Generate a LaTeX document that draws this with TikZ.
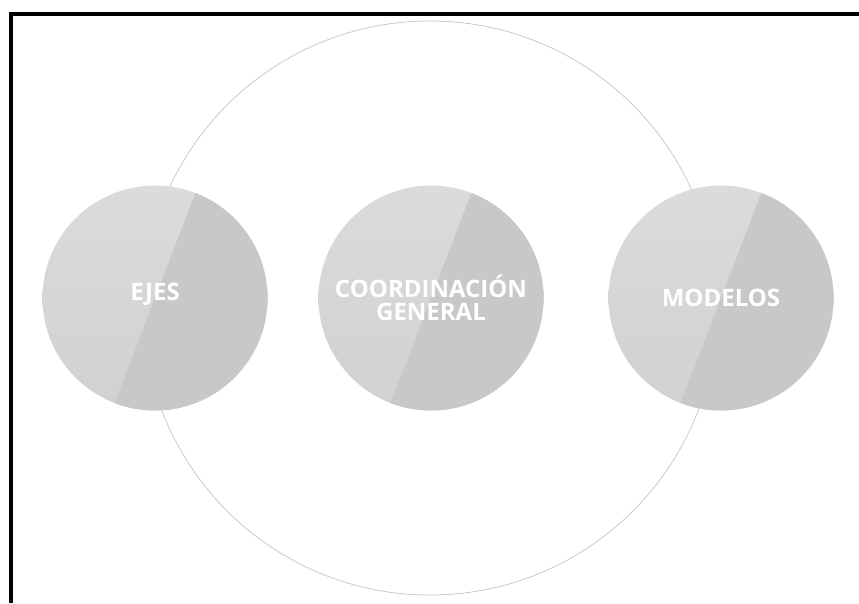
\documentclass[tikz,border=0pt]{standalone}
\usepackage{fontspec}
\usepackage{tikz}
\newfontfamily\labelfont{Open Sans}
\usetikzlibrary{positioning}

\definecolor{lightdisc}{HTML}{DBDBDB}
\definecolor{lightdiscb}{HTML}{D1D1D1}
\definecolor{darkdisc}{HTML}{C8C8C8}
\definecolor{ringline}{HTML}{C4C4C4}

\begin{document}
\begin{tikzpicture}[x=1pt,y=-1pt,node distance=276pt]
\tikzstyle{every node}=[font=\labelfont\bfseries\fontsize{24}{23}\selectfont]
\tikzstyle{disc}=[circle,minimum size=225pt,inner sep=0pt,text=white,align=center,
  path picture={
    \shade[top color=lightdisc,bottom color=lightdiscb]
      (path picture bounding box.south west) rectangle (path picture bounding box.north east);
    % darker half, split along a tilted diameter
    \fill[darkdisc] (path picture bounding box.center) ++(69:140pt) -- ++(-21:200pt)
      -- ++(-111:280pt) -- ++(159:200pt) -- cycle;
  }]
\useasboundingbox (0,0) rectangle (859,603);
% frame, only top and left edges
\fill[black] (9,12) rectangle (859,16);
\fill[black] (9,12) rectangle (13,603);

% big ring behind the discs
\node [circle,draw=ringline,line width=0.7pt,minimum size=574pt,inner sep=0pt] (ring) at (430,308) {};

\node [disc] (0) at (155,298) {\raisebox{13pt}{EJES}};
\node [disc] [right of=0] (1) {COORDINACIÓN\\GENERAL};
\node [disc] [right of=1,xshift=14pt] (2) {MODELOS};

\end{tikzpicture}
\end{document}
